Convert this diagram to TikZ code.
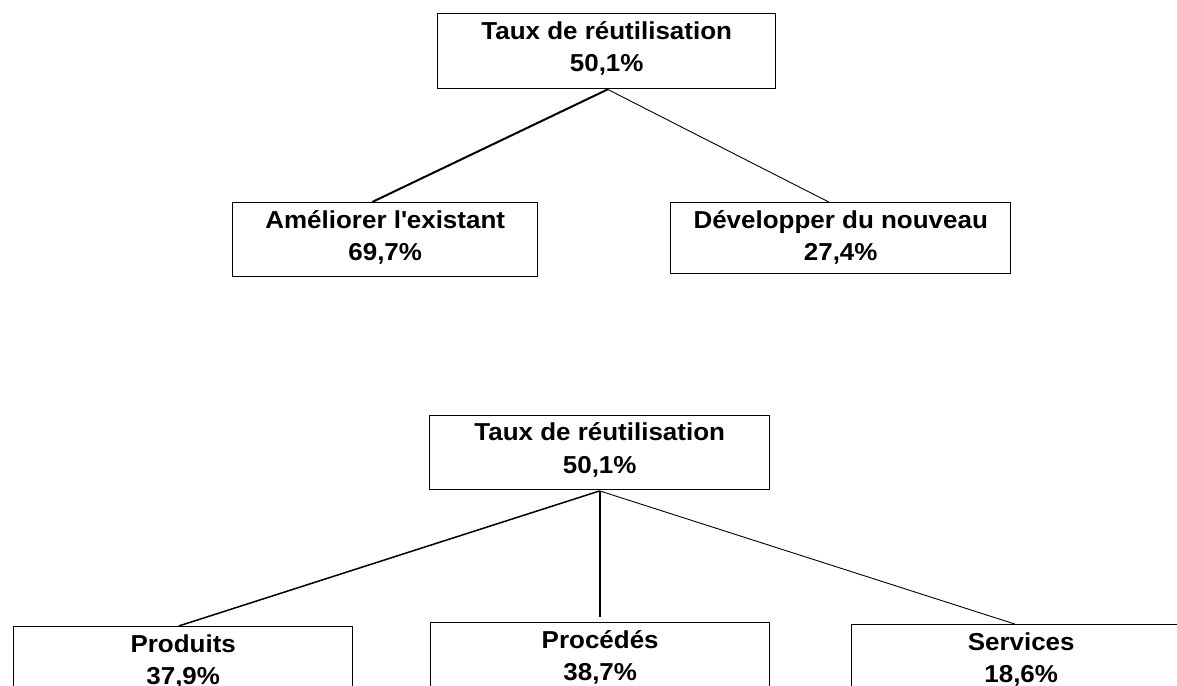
\documentclass[tikz,border=0pt]{standalone}
\usepackage{fontspec}
\setmainfont{Liberation Sans}[FakeStretch=1.06]
\usetikzlibrary{calc}
% two centred lines: first baseline 25.5pt below the top, second 32.5pt lower
\newcommand\twolines[3]{\vbox to #3{\offinterlineskip\vskip 25.5pt
  \hbox to 0pt{\hss\smash{#1}\hss}\vskip 32.5pt
  \hbox to 0pt{\hss\smash{#2}\hss}\vss}}
\tikzset{
  box/.style={draw, line width=1.4pt, rectangle, inner sep=0pt, anchor=north west,
    font=\bfseries\fontsize{24.5}{32.5}\selectfont},
  thickline/.style={line width=2pt},
  midline/.style={line width=1.5pt},
  thinline/.style={line width=0.9pt}
}
\begin{document}
\begin{tikzpicture}[x=1pt,y=-1pt]
\useasboundingbox (0,0) rectangle (1177,685);
\clip (0,0) rectangle (1177,685);
% top tree
\node[box, minimum width=338pt] (t1) at (437,13) {\twolines{Taux de réutilisation}{50,1\%}{75pt}};
\node[box, minimum width=305pt] (a) at (232,202) {\twolines{Améliorer l\textquotesingle existant}{69,7\%}{74pt}};
\node[box, minimum width=340pt] (d) at (670,202) {\twolines{Développer du nouveau}{27,4\%}{71pt}};
\coordinate (t1s) at ($(t1.south)+(1,0)$);
\coordinate (ain) at ($(a.north)+(-13,0)$);
\coordinate (din) at ($(d.north)+(-12,0)$);
\draw[thickline] (t1s) -- (ain);
\draw[thinline] (t1s) -- (din);
% bottom tree
\node[box, minimum width=340pt] (t2) at (429,414.5) {\twolines{Taux de réutilisation}{50,1\%}{74pt}};
\node[box, minimum width=339pt] (p) at (13,626) {\twolines{Produits}{37,9\%}{80pt}};
\node[box, minimum width=339pt] (pr) at (430,622) {\twolines{Procédés}{38,7\%}{80pt}};
\node[box, minimum width=339pt] (s) at (851,624) {\twolines{Services}{18,6\%}{80pt}};
\coordinate (t2s) at ($(t2.south)+(0,1)$);
\coordinate (pin) at ($(p.north)+(-4.5,0)$);
\coordinate (prin) at ($(pr.north)+(-0.5,-5)$);
\coordinate (sin) at ($(s.north)+(-6.5,0)$);
\draw[midline] (t2s) -- (pin);
\draw[thickline] (t2s) -- (prin);
\draw[thinline] (t2s) -- (sin);
\end{tikzpicture}
\end{document}
